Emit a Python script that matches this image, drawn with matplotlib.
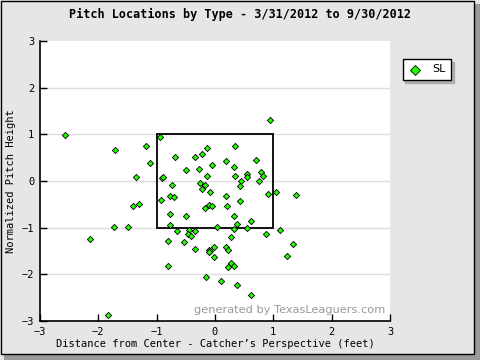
import matplotlib
matplotlib.use("Agg")
import matplotlib.pyplot as plt
from matplotlib.patches import Rectangle

# pitch locations (feet), slider only
sl_x = [-2.58, -1.71, -1.18, -1.11, -1.35, -1.40, -1.31, -1.74, -1.50, -2.15,
        -0.94, -0.68, -0.49, -0.91, -0.89, -0.73, -0.92, -0.78, -0.71, -0.78,
        -0.49, -0.77, -0.65, -0.44, -0.34, -0.47, -0.41, -0.80, -0.54, -0.35,
        0.95, -0.35, -0.23, -0.13, 0.35, -0.27, -0.06, 0.19, 0.33, 0.71,
        -0.13, 0.35, 0.54, 0.54, 0.45, 0.78, 0.83, 0.76, -0.25, -0.18,
        -0.22, 0.42, -0.08, 0.90, 1.05, 1.39, 0.19, 0.42, -0.10, -0.05,
        -0.18, 0.21, 0.33, 0.62, 0.37, 0.04, 0.33, 0.55, 1.12, 0.88,
        0.28, 1.34, 1.24, -0.11, -0.08, -0.10, -0.01, 0.18, 0.23, -0.01,
        -0.80, 0.28, 0.23, 0.33, -0.15, 0.11, 0.38, 0.62, -1.83]
sl_z = [0.98, 0.66, 0.74, 0.39, 0.08, -0.54, -0.50, -0.99, -0.99, -1.25,
        0.94, 0.51, 0.23, 0.06, 0.08, -0.09, -0.41, -0.33, -0.35, -0.71,
        -0.76, -0.95, -1.08, -1.06, -1.08, -1.14, -1.18, -1.29, -1.31, -1.46,
        1.30, 0.51, 0.58, 0.70, 0.74, 0.25, 0.34, 0.42, 0.29, 0.46,
        0.10, 0.10, 0.16, 0.08, 0.01, 0.19, 0.10, -0.01, -0.05, -0.09,
        -0.18, -0.11, -0.24, -0.28, -0.24, -0.31, -0.33, -0.43, -0.52, -0.54,
        -0.58, -0.54, -0.76, -0.86, -0.93, -0.99, -1.03, -1.01, -1.06, -1.14,
        -1.21, -1.36, -1.61, -1.48, -1.50, -1.53, -1.42, -1.42, -1.48, -1.63,
        -1.83, -1.76, -1.85, -1.83, -2.06, -2.15, -2.23, -2.45, -2.88]

ticks = [-3, -2, -1, 0, 1, 2, 3]
mono = 'DejaVu Sans Mono'

fig = plt.figure(figsize=(4.8, 3.6), dpi=100)
fig.patch.set_facecolor('#e6e6e6')

# outer frame with a drop shadow
fig.patches.append(Rectangle((4 / 480, 0), 1 - 4 / 480, 1 - 4 / 360, transform=fig.transFigure,
                             facecolor='#9a9a9a', edgecolor='none', zorder=-2))
fig.patches.append(Rectangle((0.5 / 480, 6 / 360), 1 - 7 / 480, 1 - 6.5 / 360, transform=fig.transFigure,
                             facecolor='#e6e6e6', edgecolor='black', lw=1, zorder=-1))

ax = fig.add_axes([40 / 480, 1 - 321 / 360, 350 / 480, 280 / 360])
ax.set_facecolor('white')
ax.set_xlim(-3, 3)
ax.set_ylim(-3, 3)
for y in [-2, -1, 0, 1, 2]:
    ax.axhline(y, color='#dddddd', lw=1, zorder=0)
ax.add_patch(Rectangle((-1, -1), 2, 2, fill=False, edgecolor='black', lw=1.3, zorder=1))
ax.scatter(sl_x, sl_z, marker='D', s=10, facecolor='#22ff00', edgecolor='black',
           linewidths=0.6, zorder=3, label='SL')

for s in ['top', 'right']:
    ax.spines[s].set_visible(False)
ax.spines['left'].set_linewidth(1.2)
ax.spines['bottom'].set_linewidth(1.2)
ax.set_xticks(ticks)
ax.set_yticks(ticks)
ax.tick_params(direction='in', length=5, width=1, labelsize=7.5, pad=4)
for lab in ax.get_xticklabels() + ax.get_yticklabels():
    lab.set_family(mono)

ax.set_xlabel("Distance from Center - Catcher\u2019s Perspective (feet)", family=mono,
              fontsize=7.5, labelpad=2)
ax.set_ylabel("Normalized Pitch Height", family=mono, fontsize=7.5, labelpad=4)
fig.text(0.5, 1 - 14 / 360, "Pitch Locations by Type - 3/31/2012 to 9/30/2012",
         ha='center', va='center', family=mono, fontweight='bold', fontsize=8.5)

ax.text(0.985, 0.04, "generated by TexasLeaguers.com", transform=ax.transAxes,
        ha='right', va='center', color='#999999', fontsize=8.2)

leg = ax.legend(loc='upper left', bbox_to_anchor=(1.02, 0.956), frameon=True,
                fancybox=False, shadow={'color': '#888888'}, fontsize=8,
                handletextpad=1.0, borderpad=0.5, handlelength=1.2, markerscale=1.6)
leg.get_frame().set_edgecolor('black')
leg.get_frame().set_linewidth(1)

fig.savefig('out.png', dpi=100, facecolor=fig.get_facecolor())
